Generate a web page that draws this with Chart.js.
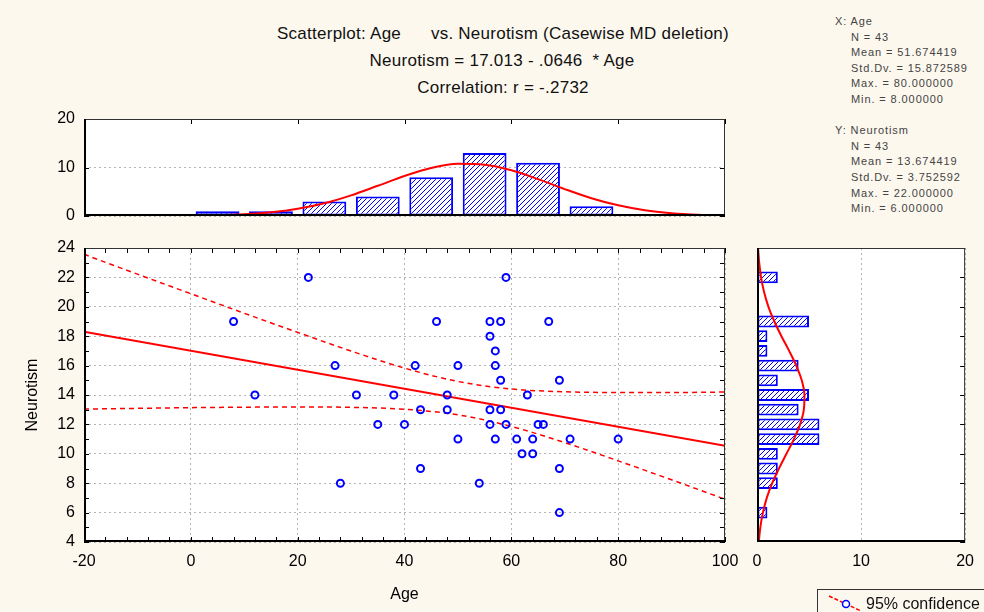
<!DOCTYPE html>
<html>
<head>
<meta charset="utf-8">
<script src="https://cdn.jsdelivr.net/npm/chart.js@4.4.1/dist/chart.umd.min.js"></script>
<style>
  body { margin: 0; width: 984px; height: 612px; background: #fdf8ee; overflow: hidden; position: relative;
         font-family: "Liberation Sans", Arial, sans-serif; }
  canvas { position: absolute; left: 0; top: 0; }
  .ttl { position: absolute; transform: translateX(-50%); white-space: pre; font-size: 17px; letter-spacing: 0.25px; line-height: 20px; color: #111; }
  .stats { position: absolute; left: 835px; top: 14px; font-size: 11px; line-height: 15.6px; color: #444; letter-spacing: 0.9px; white-space: pre; }
  .stats .in { padding-left: 16px; }
  .legend { position: absolute; left: 817px; top: 589px; width: 200px; height: 40px; border-left: 1px solid #333; border-top: 1px solid #333; }
  .legend svg { position: absolute; left: 8px; top: 4px; }
  .legend span { position: absolute; left: 48px; top: 5px; font-size: 16px; color: #111; white-space: nowrap; }
</style>
</head>
<body>
<div class="ttl" style="left:503px; top:24px;">Scatterplot: Age      vs. Neurotism (Casewise MD deletion)</div>
<div class="ttl" style="left:502px; top:51px;">Neurotism = 17.013 - .0646  * Age</div>
<div class="ttl" style="left:503px; top:78px;">Correlation: r = -.2732</div>

<div class="stats"><div>X: Age</div><div class="in">N = 43</div><div class="in">Mean = 51.674419</div><div class="in">Std.Dv. = 15.872589</div><div class="in">Max. = 80.000000</div><div class="in">Min. = 8.000000</div><div>&nbsp;</div><div>Y: Neurotism</div><div class="in">N = 43</div><div class="in">Mean = 13.674419</div><div class="in">Std.Dv. = 3.752592</div><div class="in">Max. = 22.000000</div><div class="in">Min. = 6.000000</div></div>

<canvas id="scatter" width="984" height="612"></canvas>
<canvas id="histAge" width="984" height="612"></canvas>
<canvas id="histNeuro" width="984" height="612"></canvas>

<div class="legend">
  <svg width="40" height="24"><line x1="3" y1="2" x2="35" y2="17" stroke="#ff0000" stroke-width="1.5" stroke-dasharray="4,2"/><circle cx="20" cy="10" r="3.5" fill="#fff" stroke="#0000ff" stroke-width="1.5"/></svg>
  <span>95% confidence</span>
</div>

<script>
// raw cases (Age, Neurotism)
const ages = [8, 12, 22, 27, 28, 31, 35, 38, 40, 42, 43, 43, 46, 48, 48, 50, 50, 54, 56, 56, 56, 56,
  57, 57, 57, 58, 58, 58, 59, 59, 61, 62, 63, 64, 64, 65, 66, 67, 69, 69, 69, 71, 80];
const neuro = [19, 14, 22, 16, 8, 14, 12, 14, 12, 16, 13, 9, 19, 14, 13, 16, 11, 8, 19, 18, 13, 12,
  17, 16, 11, 19, 15, 13, 22, 12, 11, 10, 14, 11, 10, 12, 12, 19, 15, 9, 6, 11, 11];

// regression line and 95% band
const fitX = [-20, 100];
const fitY = [18.31, 10.55];
const bandX = [-20, -10, 0, 10, 20, 30, 40, 50, 60, 70, 80, 90, 100];
const bandUpper = [23.57, 22.22, 20.89, 19.56, 18.26, 16.99, 15.83, 14.92, 14.41, 14.22, 14.17, 14.17, 14.2];
const bandLower = [13.04, 13.09, 13.14, 13.17, 13.19, 13.16, 13.03, 12.65, 11.86, 10.76, 9.52, 8.23, 6.91];

// age histogram
const ageBins = [5, 15, 25, 35, 45, 55, 65, 75];
const ageCounts = [1, 1, 3, 4, 8, 13, 11, 2];
const ageCurveX = [0, 5, 10, 15, 20, 25, 30, 35, 40, 45, 50, 55, 60, 65, 70, 75, 80, 85, 90, 95, 100];
const ageCurveY = [0.05, 0.14, 0.35, 0.75, 1.48, 2.63, 4.26, 6.23, 8.25, 9.9, 10.75, 10.57, 9.42, 7.6,
  5.55, 3.67, 2.2, 1.19, 0.59, 0.26, 0.1];

// neurotism histogram
const neuroBins = [6, 8, 9, 10, 11, 12, 13, 14, 15, 16, 17, 18, 19, 22];
const neuroCounts = [1, 2, 2, 2, 6, 6, 4, 5, 2, 4, 1, 1, 5, 2];
const neuroCurveY = [4, 5, 6, 7, 8, 9, 10, 11, 12, 13, 14, 15, 16, 17, 18, 19, 20, 21, 22, 23, 24];
const neuroCurveX = [0.17, 0.32, 0.57, 0.94, 1.46, 2.11, 2.83, 3.55, 4.14, 4.5, 4.56, 4.3, 3.77, 3.09,
  2.35, 1.67, 1.1, 0.68, 0.39, 0.21, 0.1];

const BLUE = "#0000ff";
const RED = "#ff0000";
const FONT = { family: "'Liberation Sans', Arial, sans-serif", size: 16 };
const gridStyle = { color: "#b4b4b4", lineWidth: 1, drawTicks: false };
const borderStyle = { display: false, dash: [2, 3] };

function hatch() {
  const c = document.createElement("canvas");
  c.width = 5; c.height = 5;
  const g = c.getContext("2d");
  g.fillStyle = "#fff";
  g.fillRect(0, 0, 5, 5);
  g.strokeStyle = BLUE;
  g.lineWidth = 1;
  g.beginPath();
  g.moveTo(-1, 6); g.lineTo(6, -1);
  g.moveTo(-1, 1); g.lineTo(1, -1);
  g.moveTo(4, 6); g.lineTo(6, 4);
  g.stroke();
  return g.createPattern(c, "repeat");
}

// white plot area, frame and inward tick marks
const framePlugin = {
  id: "frame",
  beforeDraw(chart) {
    const { ctx, chartArea: a } = chart;
    ctx.save();
    ctx.fillStyle = "#fff";
    ctx.fillRect(a.left, a.top, a.width, a.height);
    ctx.restore();
  },
  afterDraw(chart, args, opts) {
    const { ctx, chartArea: a, scales } = chart;
    ctx.save();
    ctx.strokeStyle = "#000";
    ctx.lineWidth = 1;
    (opts.marks || []).forEach((m) => {
      const sc = scales[m.axis];
      for (let v = sc.min; v <= sc.max + 1e-9; v += m.step) {
        const p = Math.round(sc.getPixelForValue(v)) + 0.5;
        ctx.beginPath();
        if (m.side === "left") { ctx.moveTo(a.left, p); ctx.lineTo(a.left + 5, p); }
        if (m.side === "right") { ctx.moveTo(a.right, p); ctx.lineTo(a.right - 5, p); }
        if (m.side === "top") { ctx.moveTo(p, a.top); ctx.lineTo(p, a.top + 5); }
        if (m.side === "bottom") { ctx.moveTo(p, a.bottom); ctx.lineTo(p, a.bottom - 5); }
        ctx.stroke();
      }
    });
    ctx.strokeStyle = "#333";
    ctx.strokeRect(a.left + 0.5, a.top + 0.5, a.width - 1, a.height - 1);
    ctx.strokeStyle = "#000";
    ctx.lineWidth = 2;
    ctx.beginPath();
    ctx.moveTo(a.left + 1, a.top);
    ctx.lineTo(a.left + 1, a.bottom - 1);
    ctx.lineTo(a.right, a.bottom - 1);
    ctx.stroke();
    ctx.restore();
  },
};

const common = {
  responsive: false,
  animation: false,
  devicePixelRatio: 1,
  events: [],
};

new Chart(document.getElementById("scatter"), {
  type: "scatter",
  data: {
    datasets: [
      {
        data: ages.map((a, i) => ({ x: a, y: neuro[i] })),
        pointRadius: 3.5,
        pointBorderWidth: 2,
        pointBorderColor: BLUE,
        pointBackgroundColor: "rgba(0,0,0,0)",
      },
      {
        type: "line",
        data: fitX.map((x, i) => ({ x, y: fitY[i] })),
        borderColor: RED,
        borderWidth: 2,
        pointRadius: 0,
      },
      {
        type: "line",
        data: bandX.map((x, i) => ({ x, y: bandUpper[i] })),
        borderColor: RED,
        borderWidth: 1.5,
        borderDash: [5, 4],
        pointRadius: 0,
        cubicInterpolationMode: "monotone",
      },
      {
        type: "line",
        data: bandX.map((x, i) => ({ x, y: bandLower[i] })),
        borderColor: RED,
        borderWidth: 1.5,
        borderDash: [5, 4],
        pointRadius: 0,
        cubicInterpolationMode: "monotone",
      },
    ],
  },
  options: {
    ...common,
    layout: { padding: { left: 0, top: 248, right: 259, bottom: 0 } },
    plugins: {
      legend: { display: false },
      tooltip: { enabled: false },
      frame: {
        marks: [
          { axis: "y", side: "left", step: 1 },
          { axis: "y", side: "right", step: 1 },
          { axis: "x", side: "top", step: 4 },
          { axis: "x", side: "bottom", step: 4 },
        ],
      },
    },
    scales: {
      x: {
        type: "linear", min: -20, max: 100,
        ticks: { stepSize: 20, padding: 10, font: FONT, color: "#000" },
        grid: gridStyle, border: borderStyle,
        title: { display: true, text: "Age", font: FONT, color: "#000", padding: { top: 0, bottom: 8 } },
        afterFit(s) { s.height = 70; },
      },
      y: {
        type: "linear", min: 4, max: 24,
        ticks: { stepSize: 2, padding: 9, font: FONT, color: "#000" },
        grid: gridStyle, border: borderStyle,
        title: { display: true, text: "Neurotism", font: FONT, color: "#000", padding: { top: 23, bottom: 0 } },
        afterFit(s) { s.width = 84; },
      },
    },
  },
  plugins: [framePlugin],
});

new Chart(document.getElementById("histAge"), {
  type: "bar",
  data: {
    datasets: [
      {
        type: "line",
        data: ageCurveX.map((x, i) => ({ x, y: ageCurveY[i] })),
        borderColor: RED,
        borderWidth: 2,
        pointRadius: 0,
        cubicInterpolationMode: "monotone",
      },
      {
        data: ageBins.map((x, i) => ({ x, y: ageCounts[i] })),
        backgroundColor: hatch(),
        borderColor: BLUE,
        borderWidth: 2,
        borderSkipped: false,
        barPercentage: 0.82,
        categoryPercentage: 1,
      },
    ],
  },
  options: {
    ...common,
    layout: { padding: { left: 0, top: 119, right: 259, bottom: 396 } },
    plugins: {
      legend: { display: false },
      tooltip: { enabled: false },
      frame: {
        marks: [
          { axis: "x", side: "top", step: 20 },
          { axis: "y", side: "left", step: 10 },
          { axis: "y", side: "right", step: 10 },
        ],
      },
    },
    scales: {
      x: { type: "linear", min: -20, max: 100, display: false, offset: false, grid: { offset: false } },
      y: {
        type: "linear", min: 0, max: 20,
        ticks: { stepSize: 10, padding: 9, font: FONT, color: "#000" },
        grid: gridStyle, border: borderStyle,
        afterFit(s) { s.width = 84; },
      },
    },
  },
  plugins: [framePlugin],
});

new Chart(document.getElementById("histNeuro"), {
  type: "bar",
  data: {
    datasets: [
      {
        type: "line",
        data: neuroCurveY.map((y, i) => ({ x: neuroCurveX[i], y })),
        borderColor: RED,
        borderWidth: 2,
        pointRadius: 0,
        cubicInterpolationMode: "monotone",
      },
      {
        data: neuroBins.map((y, i) => ({ x: neuroCounts[i], y })),
        backgroundColor: hatch(),
        borderColor: BLUE,
        borderWidth: 2,
        borderSkipped: false,
        barPercentage: 0.8,
        categoryPercentage: 1,
      },
    ],
  },
  options: {
    ...common,
    indexAxis: "y",
    layout: { padding: { left: 757, top: 248, right: 14, bottom: 0 } },
    plugins: {
      legend: { display: false },
      tooltip: { enabled: false },
      frame: { marks: [{ axis: "y", side: "right", step: 2 }] },
    },
    scales: {
      x: {
        type: "linear", min: 0, max: 20,
        ticks: { stepSize: 10, padding: 10, font: FONT, color: "#000" },
        grid: gridStyle, border: borderStyle,
        afterFit(s) { s.height = 70; },
      },
      y: { type: "linear", min: 4, max: 24, display: false, offset: false, grid: { offset: false } },
    },
  },
  plugins: [framePlugin],
});
</script>
</body>
</html>
